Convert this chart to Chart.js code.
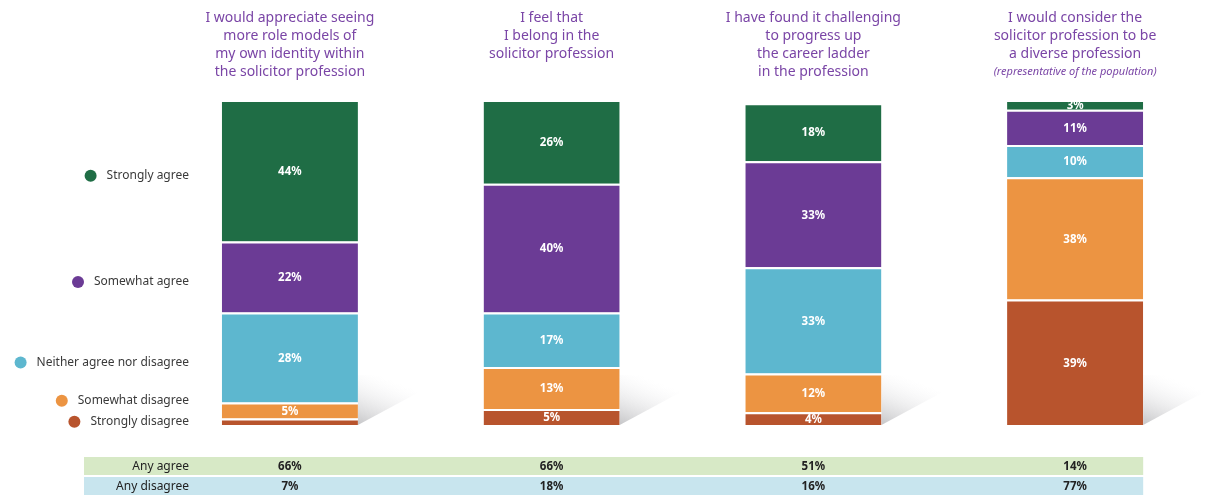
<!DOCTYPE html>
<html>
<head>
<meta charset="utf-8">
<script src="https://cdn.jsdelivr.net/npm/chart.js@4.4.1/dist/chart.umd.min.js"></script>
<style>
  html, body { margin: 0; padding: 0; background: #fff; }
  #wrap { width: 1214px; height: 495px; }
</style>
</head>
<body>
<div id="wrap"><canvas id="myChart" width="1214" height="495"></canvas></div>
<script>
// statements (titles above each bar)
var titles = [
    ['I would appreciate seeing', 'more role models of', 'my own identity within', 'the solicitor profession'],
    ['I feel that', 'I belong in the', 'solicitor profession'],
    ['I have found it challenging', 'to progress up', 'the career ladder', 'in the profession'],
    ['I would consider the', 'solicitor profession to be', 'a diverse profession']
];
var titleNotes = ['', '', '', '(representative of the population)'];

var responses = ['Strongly disagree', 'Somewhat disagree', 'Neither agree nor disagree', 'Somewhat agree', 'Strongly agree'];

var strongDisagree   = [2, 5, 4, 39];
var somewhatDisagree = [5, 13, 12, 38];
var neither          = [28, 17, 33, 10];
var somewhatAgree    = [22, 40, 33, 11];
var strongAgree      = [44, 26, 18, 3];

var anyAgree    = [66, 66, 51, 14];
var anyDisagree = [7, 18, 16, 77];

var colours = ['#b8542d', '#ec9442', '#5db7cf', '#6b3b95', '#1f6d45'];

var FONT = '"Noto Sans", "DejaVu Sans", sans-serif';

var series = [strongDisagree, somewhatDisagree, neither, somewhatAgree, strongAgree];
var datasets = [];
series.forEach(function(values, i) {
    datasets.push({
        label: responses[i],
        data: values,
        backgroundColor: colours[i],
        borderColor: '#ffffff',
        borderWidth: {top: 2, right: 0, bottom: 0, left: 0},
        borderSkipped: false,
        barPercentage: 0.52,
        categoryPercentage: 1
    });
});

// grey wedge shadows behind the bottom right of each bar
var shadowPlugin = {
    id: 'shadows',
    beforeDatasetsDraw: function(chart) {
        var ctx = chart.ctx;
        var meta = chart.getDatasetMeta(0);
        meta.data.forEach(function(el) {
            var r = el.x + el.width / 2;
            var b = el.base;
            var g = ctx.createLinearGradient(r, b, r + 20, b - 50);
            g.addColorStop(0, 'rgba(110,110,115,0.40)');
            g.addColorStop(0.5, 'rgba(160,160,165,0.18)');
            g.addColorStop(1, 'rgba(220,220,225,0)');
            ctx.save();
            ctx.fillStyle = g;
            ctx.beginPath();
            ctx.moveTo(r, b);
            ctx.lineTo(r + 78, b - 42);
            ctx.lineTo(r + 40, b - 50);
            ctx.lineTo(r, b - 50);
            ctx.closePath();
            ctx.fill();
            ctx.restore();
        });
    }
};

var decorPlugin = {
    id: 'decor',
    afterDatasetsDraw: function(chart) {
        var ctx = chart.ctx;
        ctx.save();
        // segment labels
        ctx.font = 'bold 11.5px ' + FONT;
        ctx.fillStyle = '#ffffff';
        ctx.textAlign = 'center';
        ctx.textBaseline = 'middle';
        chart.data.datasets.forEach(function(ds, di) {
            chart.getDatasetMeta(di).data.forEach(function(el, i) {
                if (ds.data[i] < 3) return;
                ctx.fillText(ds.data[i] + '%', el.x, (el.y + el.base) / 2 + 1);
            });
        });
        ctx.restore();
    },
    afterDraw: function(chart) {
        var ctx = chart.ctx;
        var xs = chart.scales.x;
        var area = chart.chartArea;
        ctx.save();

        // titles
        ctx.textAlign = 'center';
        ctx.textBaseline = 'middle';
        titles.forEach(function(lines, i) {
            var x = xs.getPixelForValue(i);
            ctx.fillStyle = '#7a45a6';
            ctx.font = '14px ' + FONT;
            lines.forEach(function(line, j) {
                ctx.fillText(line, x, 18 + j * 18);
            });
            if (titleNotes[i]) {
                ctx.font = 'italic 11px ' + FONT;
                ctx.fillText(titleNotes[i], x, 18 + lines.length * 18);
            }
        });

        // legend, aligned to the first bar's segments
        var labelRight = 189;
        var ys = [];
        var prev = Infinity;
        for (var d = 0; d < responses.length; d++) {
            var el = chart.getDatasetMeta(d).data[0];
            var h = el.base - el.y;
            var y = (el.y + el.base) / 2 + (h > 40 ? 5 : 0);
            y = Math.min(y, prev - 21);
            ys.push(y);
            prev = y;
        }
        ctx.font = '12px ' + FONT;
        ctx.textAlign = 'right';
        for (var k = 0; k < responses.length; k++) {
            ctx.fillStyle = '#3a3a3a';
            ctx.fillText(responses[k], labelRight, ys[k]);
            var w = ctx.measureText(responses[k]).width;
            ctx.fillStyle = colours[k];
            ctx.beginPath();
            ctx.arc(labelRight - w - 16, ys[k], 6, 0, Math.PI * 2);
            ctx.fill();
        }

        // summary table
        var lastBar = chart.getDatasetMeta(0).data[3];
        var tLeft = 84, tRight = lastBar.x + lastBar.width / 2;
        var rows = [
            {name: 'Any agree', vals: anyAgree, bg: '#d7e9c6'},
            {name: 'Any disagree', vals: anyDisagree, bg: '#c8e5ee'}
        ];
        rows.forEach(function(row, r) {
            var top = area.bottom + 32 + r * 20;
            ctx.fillStyle = row.bg;
            ctx.fillRect(tLeft, top, tRight - tLeft, 18);
            var cy = top + 9.5;
            ctx.fillStyle = '#222';
            ctx.font = '12px ' + FONT;
            ctx.textAlign = 'right';
            ctx.fillText(row.name, labelRight, cy);
            ctx.font = 'bold 11.5px ' + FONT;
            ctx.textAlign = 'center';
            row.vals.forEach(function(v, i) {
                ctx.fillText(v + '%', xs.getPixelForValue(i), cy);
            });
        });
        ctx.restore();
    }
};

var ctx = document.getElementById('myChart').getContext('2d');
var myChart = new Chart(ctx, {
    type: 'bar',
    data: {
        labels: titles.map(function(t) { return t.join(' '); }),
        datasets: datasets
    },
    options: {
        responsive: false,
        animation: false,
        layout: {padding: {left: 159, right: 8, top: 100, bottom: 70}},
        plugins: {legend: {display: false}, tooltip: {enabled: false}},
        scales: {
            x: {stacked: true, display: false},
            y: {stacked: true, display: false, min: 0, max: 101}
        }
    },
    plugins: [shadowPlugin, decorPlugin]
});
</script>
</body>
</html>
